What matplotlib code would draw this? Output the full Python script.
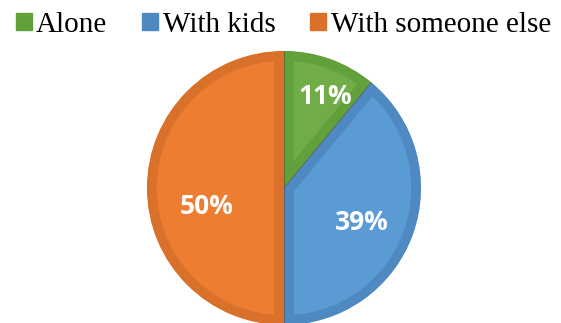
import numpy as np
import matplotlib.pyplot as plt
from matplotlib.patches import Rectangle

# data
labels = ["Alone", "With kids", "With someone else"]
shares = [11, 39, 50]
pct_text = ["11%", "39%", "50%"]

fill_colors = ["#70AD47", "#5B9BD5", "#ED7D31"]
edge_colors = ["#62A03B", "#4F89C2", "#D9712B"]

W, H = 561, 323
fig = plt.figure(figsize=(W / 100, H / 100), dpi=100)

# square axes holding the pie, placed in pixel units
cx, cy, r = 284, 188, 137
ax = fig.add_axes([(cx - r) / W, (H - cy - r) / H, 2 * r / W, 2 * r / H])

wedges, _ = ax.pie(shares, colors=fill_colors, startangle=90, counterclock=False,
                   radius=1, wedgeprops=dict(linewidth=0))
ax.set_xlim(-1, 1)
ax.set_ylim(-1, 1)
ax.set_aspect("equal")
ax.axis("off")

# inner border: thick stroke clipped to the wedge itself
for w, ec in zip(wedges, edge_colors):
    w.set_edgecolor(ec)
    w.set_linewidth(14)
    w.set_clip_on(True)
    w.set_clip_path(w)

# thin separator lines between the slices
bounds = np.cumsum([0] + shares)[:-1]
for b in bounds:
    t = np.deg2rad(90 - b * 3.6)
    ax.plot([0, np.cos(t)], [0, np.sin(t)], color="#4a3f35", lw=0.5, alpha=0.7,
            clip_on=False)

# percentage labels
label_pos = [(325, 97), (362, 223), (207, 207)]
for txt, (px, py) in zip(pct_text, label_pos):
    fig.text(px / W, 1 - py / H, txt, color="white", fontsize=19, fontweight="bold",
             family="Open Sans", ha="center", va="center")

# legend
handles = [Rectangle((0, 0), 1, 1, color=c) for c in edge_colors]
fig.legend(handles, labels, loc="upper center", bbox_to_anchor=(0.505, 1.045), ncol=3,
           frameon=False, handlelength=0.55, handleheight=0.55, handletextpad=0.15,
           columnspacing=1.2, prop=dict(family="Liberation Serif", size=21))

fig.savefig("out.png", dpi=100)
